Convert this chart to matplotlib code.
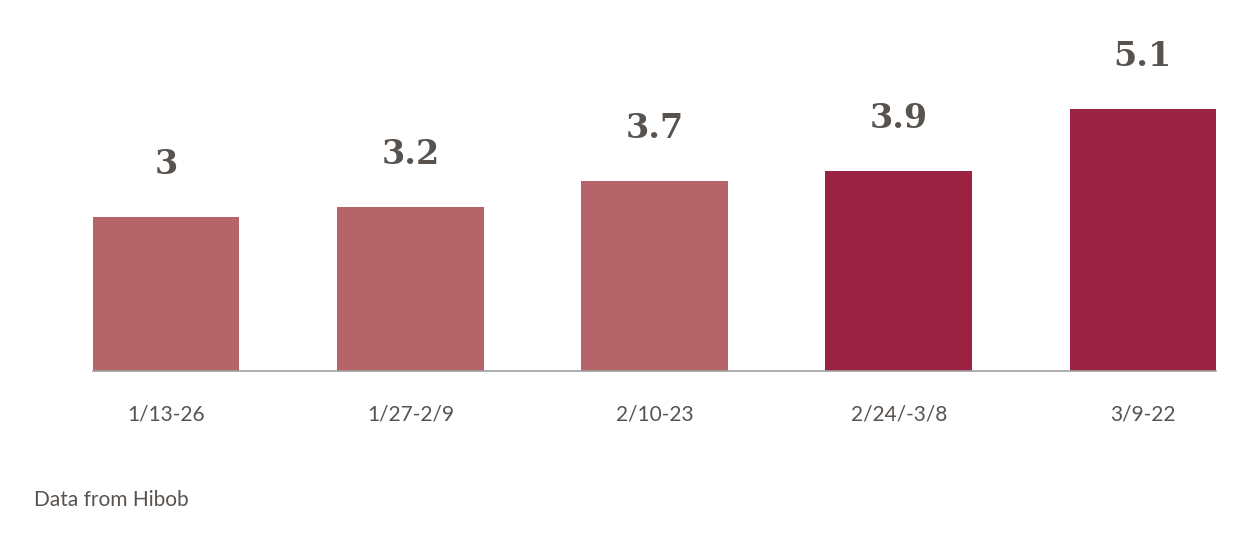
import matplotlib.pyplot as plt

periods = ['1/13-26', '1/27-2/9', '2/10-23', '2/24/-3/8', '3/9-22']
values = [3, 3.2, 3.7, 3.9, 5.1]
bar_colors = ['#b5646a', '#b5646a', '#b5646a', '#9c2243', '#9c2243']

fig = plt.figure(figsize=(12.5, 5.42), dpi=100)
ax = fig.add_axes([93 / 1250, 171 / 542, 1123 / 1250, 371 / 542])

x = range(len(values))
ax.bar(x, values, width=0.6, color=bar_colors)
ax.set_xlim(-0.3, len(values) - 0.7)
ax.set_ylim(0, 7.23)

# value labels above bars
for xi, v in zip(x, values):
    ax.annotate(f'{v:g}', (xi, v), xytext=(0, 38), textcoords='offset points',
                ha='center', va='center', fontsize=24, fontweight='bold',
                family='DejaVu Serif', color='#58534f')

for side in ['top', 'right', 'left']:
    ax.spines[side].set_visible(False)
ax.spines['bottom'].set_color('#a0a0a0')
ax.spines['bottom'].set_linewidth(1.2)
ax.set_yticks([])
ax.set_xticks(list(x))
ax.set_xticklabels(periods, fontsize=15, family='Lato', color='#58534f')
ax.tick_params(axis='x', length=0, pad=24)

fig.text(34 / 1250, 1 - 500 / 542, 'Data from Hibob', fontsize=15, family='Lato',
         color='#58534f', va='center', ha='left')

fig.savefig('out.png', dpi=100)
